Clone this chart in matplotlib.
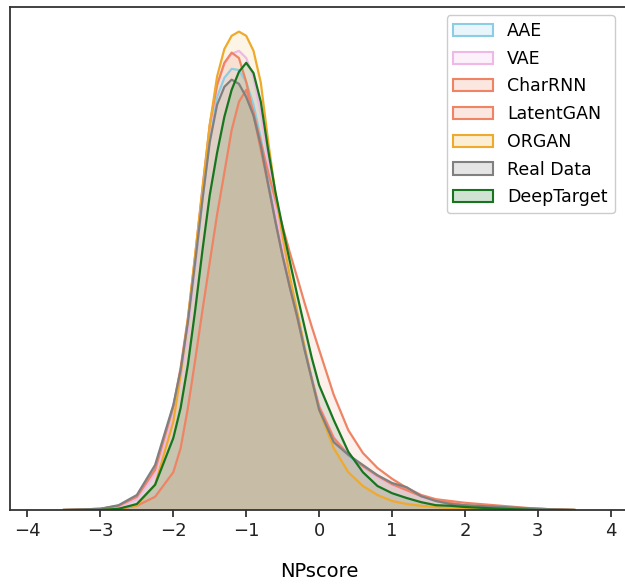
import numpy as np
import matplotlib
matplotlib.use("Agg")
import matplotlib.pyplot as plt
from matplotlib.patches import Patch
from matplotlib.colors import to_rgba

x = [-3.5, -3.0, -2.75, -2.5, -2.25, -2.0, -1.9, -1.8, -1.7, -1.6, -1.5, -1.4, -1.3,
     -1.2, -1.1, -1.0, -0.9, -0.8, -0.7, -0.6, -0.5, -0.4, -0.3, -0.2, -0.1, 0.0,
     0.2, 0.4, 0.6, 0.8, 1.0, 1.2, 1.4, 1.6, 1.8, 2.0, 2.5, 3.0, 3.5]

aae = [0, .002, .007, .023, .070, .167, .225, .305, .408, .517, .620, .688, .720,
       .735, .733, .713, .675, .620, .555, .488, .428, .375, .323, .268, .217, .170,
       .117, .090, .072, .055, .043, .035, .023, .015, .010, .007, .003, .002, 0]
vae = [0, .002, .005, .018, .060, .158, .217, .300, .408, .525, .633, .708, .743,
       .760, .765, .753, .720, .660, .580, .502, .437, .380, .327, .272, .222, .175,
       .122, .092, .072, .055, .042, .032, .022, .015, .010, .007, .003, .002, 0]
charrnn = [0, .002, .007, .022, .067, .172, .237, .320, .425, .537, .642, .708, .745,
           .762, .753, .713, .658, .600, .542, .482, .423, .370, .320, .268, .218, .172,
           .120, .092, .073, .057, .043, .033, .023, .017, .012, .008, .003, .002, 0]
latentgan = [0, 0, .002, .007, .022, .063, .103, .170, .250, .333, .413, .492, .562,
             .633, .680, .700, .663, .613, .563, .517, .472, .428, .387, .345, .305, .267,
             .192, .133, .095, .070, .052, .037, .025, .018, .015, .012, .007, .002, 0]
organ = [0, 0, .002, .008, .042, .147, .225, .317, .425, .533, .642, .722, .768,
         .790, .797, .790, .765, .712, .615, .528, .455, .388, .330, .272, .217, .167,
         .103, .063, .040, .025, .015, .010, .007, .005, .003, .002, 0, 0, 0]
real = [0, .002, .008, .025, .075, .175, .233, .313, .413, .517, .613, .675, .705,
        .717, .710, .688, .657, .607, .543, .480, .422, .370, .322, .267, .217, .167,
        .113, .092, .075, .058, .045, .038, .023, .015, .010, .008, .005, .002, 0]
deeptarget = [0, 0, .002, .010, .042, .120, .170, .242, .333, .433, .525, .595, .655,
              .700, .730, .745, .728, .680, .600, .530, .470, .413, .358, .305, .253, .208,
              .150, .097, .063, .040, .028, .020, .013, .008, .007, .005, .002, 0, 0]

labels = ["AAE", "VAE", "CharRNN", "LatentGAN", "ORGAN", "Real Data", "DeepTarget"]
series = [aae, vae, charrnn, latentgan, organ, real, deeptarget]
colors = ["#8ccde6", "#f0b8e6", "#ee8464", "#ee8464", "#eeaa2c", "#808080", "#17751f"]
fill_alpha = 0.12

fig = plt.figure(figsize=(6.25, 5.85), dpi=100)
ax = fig.add_axes([10 / 625, 75 / 585, 619 / 625, 503 / 585])

handles = []
for lab, ys, c in zip(labels, series, colors):
    ax.fill_between(x, ys, 0, facecolor=to_rgba(c, fill_alpha), edgecolor="none")
    ax.plot(x, ys, color=c, lw=1.6, solid_joinstyle="round")
    handles.append(Patch(facecolor=to_rgba(c, 0.2), edgecolor=c, lw=1.5, label=lab))

ax.set_xlim(-4.24, 4.25)
ax.set_ylim(0, 0.838)
ax.set_yticks([])
ax.set_xticks(range(-4, 5))
ax.tick_params(axis="x", labelsize=13, length=5, width=1.2, colors="#222222")
for s in ax.spines.values():
    s.set_linewidth(1.3)
    s.set_color("#333333")
ax.set_xlabel("NPscore", fontsize=14, labelpad=16)

ax.legend(handles=handles, loc="upper right", bbox_to_anchor=(0.977, 0.984),
          borderaxespad=0, fontsize=12.5, labelspacing=0.56, handlelength=2.3,
          framealpha=1, edgecolor="#cccccc")

fig.savefig("out.png", dpi=100)
